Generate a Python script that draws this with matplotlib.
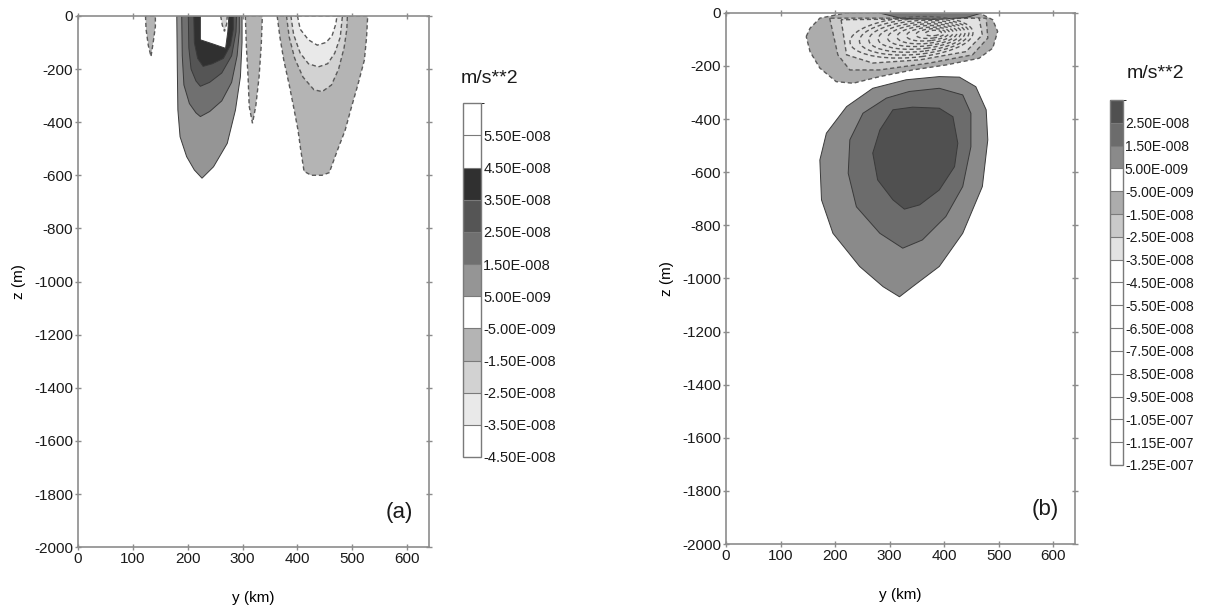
import numpy as np
import matplotlib
matplotlib.use("Agg")
from matplotlib import pyplot as plt
from matplotlib.colors import ListedColormap, BoundaryNorm
from matplotlib.patches import Ellipse

plt.rcParams['font.family'] = ['Liberation Sans Narrow', 'Liberation Sans', 'DejaVu Sans']
plt.rcParams['axes.unicode_minus'] = False

# colour scale, panel (a): boundaries in units of 1e-8 m/s**2, top to bottom
levels_a = [6.5, 5.5, 4.5, 3.5, 2.5, 1.5, 0.5, -0.5, -1.5, -2.5, -3.5, -4.5]
labels_a = ['5.50E-008', '4.50E-008', '3.50E-008', '2.50E-008', '1.50E-008',
            '5.00E-009', '-5.00E-009', '-1.50E-008', '-2.50E-008', '-3.50E-008',
            '-4.50E-008']
colors_a = ['#ffffff', '#ffffff', '#303030', '#555555', '#707070', '#959595',
            '#ffffff', '#b4b4b4', '#d2d2d2', '#e9e9e9', '#ffffff']

# colour scale, panel (b)
levels_b = [3.5, 2.5, 1.5, 0.5, -0.5, -1.5, -2.5, -3.5, -4.5, -5.5, -6.5,
            -7.5, -8.5, -9.5, -10.5, -11.5, -12.5]
labels_b = ['2.50E-008', '1.50E-008', '5.00E-009', '-5.00E-009', '-1.50E-008',
            '-2.50E-008', '-3.50E-008', '-4.50E-008', '-5.50E-008', '-6.50E-008',
            '-7.50E-008', '-8.50E-008', '-9.50E-008', '-1.05E-007', '-1.15E-007',
            '-1.25E-007']
colors_b = ['#505050', '#6c6c6c', '#8a8a8a', '#ffffff', '#acacac', '#c9c9c9',
            '#e2e2e2'] + ['#ffffff'] * 9

# contour outlines (y in km, z in m), panel (a); outer level first
a_pos_05_y = [180, 181, 182, 186, 198, 212, 226, 247, 272, 287, 296, 299, 299]
a_pos_05_z = [0, -200, -354, -455, -530, -580, -611, -568, -480, -354, -229, -100, 0]
a_pos_15_y = [189, 190, 193, 203, 215, 223, 240, 262, 280, 290, 294, 294]
a_pos_15_z = [0, -150, -260, -330, -365, -379, -360, -320, -250, -150, -60, 0]
a_pos_25_y = [201, 202, 206, 215, 223, 240, 262, 280, 288, 289]
a_pos_25_z = [0, -120, -200, -245, -265, -250, -215, -150, -60, 0]
a_pos_35_y = [211, 212, 218, 228, 245, 265, 278, 283, 283]
a_pos_35_z = [0, -100, -160, -190, -180, -160, -110, -50, 0]
a_pos_45_y = [223, 223, 245, 269, 273, 275]
a_pos_45_z = [0, -90, -105, -122, -60, 0]

a_neg_small_y = [123, 124, 128, 133, 137, 141, 141]
a_neg_small_z = [0, -50, -110, -153, -100, -40, 0]
a_neg_notch_y = [260, 263, 267, 271, 272]
a_neg_notch_z = [0, -35, -58, -30, 0]
a_neg_mid_y = [305, 307, 310, 312, 318, 324, 330, 334, 336]
a_neg_mid_z = [0, -120, -230, -340, -404, -340, -230, -110, 0]
a_neg_05_y = [363, 368, 375, 385, 394, 401, 406, 412, 425, 445, 458, 473, 487,
              497, 510, 522, 526, 528]
a_neg_05_z = [0, -80, -166, -260, -354, -430, -505, -585, -600, -600, -590,
              -505, -430, -354, -260, -166, -80, 0]
a_neg_15_y = [380, 385, 395, 410, 430, 445, 462, 475, 485, 490, 491]
a_neg_15_z = [0, -80, -160, -230, -278, -285, -260, -200, -120, -50, 0]
a_neg_25_y = [388, 393, 405, 420, 438, 455, 468, 478, 482]
a_neg_25_z = [0, -70, -140, -180, -192, -180, -140, -80, 0]
a_neg_35_y = [400, 405, 420, 436, 452, 463, 470, 472]
a_neg_35_z = [0, -50, -90, -110, -100, -75, -30, 0]

# contour outlines, panel (b)
b_pos_05_y = [391, 330, 269, 221, 184, 172, 175, 196, 245, 288, 318, 342, 391,
              434, 470, 480, 477, 458, 428]
b_pos_05_z = [-240, -252, -284, -353, -453, -554, -704, -830, -955, -1031, -1069,
              -1031, -955, -830, -654, -478, -365, -278, -242]
b_pos_15_y = [294, 251, 227, 224, 239, 282, 324, 360, 403, 434, 449, 449, 434,
              391, 336]
b_pos_15_z = [-321, -378, -478, -604, -730, -830, -886, -855, -767, -654, -504,
              -378, -309, -284, -296]
b_pos_25_y = [306, 282, 269, 278, 306, 327, 355, 391, 419, 425, 416, 391, 342]
b_pos_25_z = [-365, -441, -528, -629, -704, -739, -723, -667, -579, -491, -391,
              -359, -355]
b_surf_y = [280, 320, 380, 440, 470, 470, 280]
b_surf_z = [0, -20, -25, -18, 0, 0, 0]

b_neg_05_y = [147, 154, 172, 221, 464, 489, 498, 489, 464, 404, 342, 282, 233,
              202, 172, 154]
b_neg_05_z = [-89, -58, -20, 0, 0, -26, -70, -133, -171, -196, -215, -240, -265,
              -259, -208, -146]
b_neg_15_y = [190, 205, 227, 281, 373, 452, 480, 477]
b_neg_15_z = [-20, -158, -215, -215, -189, -158, -95, -20]
b_neg_25_y = [211, 221, 269, 355, 440, 470, 464]
b_neg_25_z = [-26, -158, -189, -177, -146, -83, -20]

# closed dashed loops inside the negative slab, panel (b)
loop_y = [340, 345, 350, 355, 360, 365, 370, 375, 380]
loop_z = [-92, -90, -88, -86, -84, -82, -80, -78, -76]
loop_w = [230, 205, 180, 155, 130, 105, 80, 55, 30]
loop_h = [150, 132, 115, 98, 82, 66, 50, 35, 20]

y_ticks = [0, 100, 200, 300, 400, 500, 600]
z_ticks = list(range(0, -2001, -200))

SPINE = '#8c8c8c'


def region(ax, ys, zs, color, negative):
    if negative:
        ax.fill(ys, zs, facecolor=color, edgecolor='#5a5a5a', linewidth=1.0,
                linestyle=(0, (3, 2)), zorder=2)
    else:
        ax.fill(ys, zs, facecolor=color, edgecolor='#3a3a3a', linewidth=0.7, zorder=2)


def style_axes(ax, tag):
    ax.set_xlim(0, 640)
    ax.set_ylim(-2000, 0)
    ax.set_xticks(y_ticks)
    ax.set_yticks(z_ticks)
    ax.tick_params(direction='inout', length=5, width=1, color=SPINE,
                   labelsize=11, labelcolor='#1a1a1a', top=True, right=True, pad=1)
    for s in ax.spines.values():
        s.set_color(SPINE)
        s.set_linewidth(1.2)
        s.set_zorder(5)
    ax.set_xlabel('y (km)', fontsize=11, labelpad=18)
    ax.set_ylabel('z (m)', fontsize=11, labelpad=6)
    ax.text(0.955, 0.045, tag, transform=ax.transAxes, fontsize=16,
            ha='right', va='bottom', color='#1a1a1a')


def scale_bar(fig, rect, levels, labels, colors, title, title_xy, fs):
    cax = fig.add_axes(rect)
    bounds = levels[::-1]
    cmap = ListedColormap(colors[::-1])
    norm = BoundaryNorm(bounds, cmap.N)
    sm = plt.cm.ScalarMappable(norm=norm, cmap=cmap)
    cb = fig.colorbar(sm, cax=cax, boundaries=bounds, spacing='uniform',
                      drawedges=True)
    cb.outline.set_edgecolor('#7a7a7a')
    cb.outline.set_linewidth(1.0)
    cb.dividers.set_color('#7a7a7a')
    cb.dividers.set_linewidth(0.8)
    cb.set_ticks(levels[1:])
    cb.set_ticklabels(labels)
    cax.tick_params(length=0, labelsize=fs, pad=1.5, labelcolor='#1a1a1a')
    fig.text(title_xy[0], title_xy[1], title, fontsize=14, ha='center',
             va='center', color='#1a1a1a')


fig = plt.figure(figsize=(12.25, 6.12), dpi=100)

# panel (a)
ax1 = fig.add_axes([0.0637, 0.106, 0.2866, 0.868])
region(ax1, a_neg_small_y, a_neg_small_z, colors_a[7], True)
region(ax1, a_pos_05_y, a_pos_05_z, colors_a[5], False)
region(ax1, a_pos_15_y, a_pos_15_z, colors_a[4], False)
region(ax1, a_pos_25_y, a_pos_25_z, colors_a[3], False)
region(ax1, a_pos_35_y, a_pos_35_z, colors_a[2], False)
region(ax1, a_pos_45_y, a_pos_45_z, colors_a[1], False)
region(ax1, a_neg_notch_y, a_neg_notch_z, colors_a[8], True)
region(ax1, a_neg_mid_y, a_neg_mid_z, colors_a[7], True)
region(ax1, a_neg_05_y, a_neg_05_z, colors_a[7], True)
region(ax1, a_neg_15_y, a_neg_15_z, colors_a[8], True)
region(ax1, a_neg_25_y, a_neg_25_z, colors_a[9], True)
region(ax1, a_neg_35_y, a_neg_35_z, colors_a[10], True)
style_axes(ax1, '(a)')

# panel (b)
ax2 = fig.add_axes([0.5927, 0.111, 0.2849, 0.868])
region(ax2, b_pos_05_y, b_pos_05_z, colors_b[2], False)
region(ax2, b_pos_15_y, b_pos_15_z, colors_b[1], False)
region(ax2, b_pos_25_y, b_pos_25_z, colors_b[0], False)
region(ax2, b_neg_05_y, b_neg_05_z, colors_b[4], True)
region(ax2, b_neg_15_y, b_neg_15_z, colors_b[5], True)
region(ax2, b_neg_25_y, b_neg_25_z, colors_b[6], True)
for cy, cz, w, h in zip(loop_y, loop_z, loop_w, loop_h):
    ax2.add_patch(Ellipse((cy, cz), w, h, angle=15, fill=False,
                          edgecolor='#5a5a5a', linewidth=1.0,
                          linestyle=(0, (3, 2)), zorder=3))
region(ax2, b_surf_y, b_surf_z, '#777777', False)
style_axes(ax2, '(b)')

scale_bar(fig, [0.378, 0.2533, 0.0147, 0.578], levels_a, labels_a, colors_a,
          'm/s**2', (0.400, 0.872), 10.5)
scale_bar(fig, [0.906, 0.2402, 0.0106, 0.5964], levels_b, labels_b, colors_b,
          'm/s**2', (0.943, 0.880), 10)

fig.savefig('out.png', dpi=100)
